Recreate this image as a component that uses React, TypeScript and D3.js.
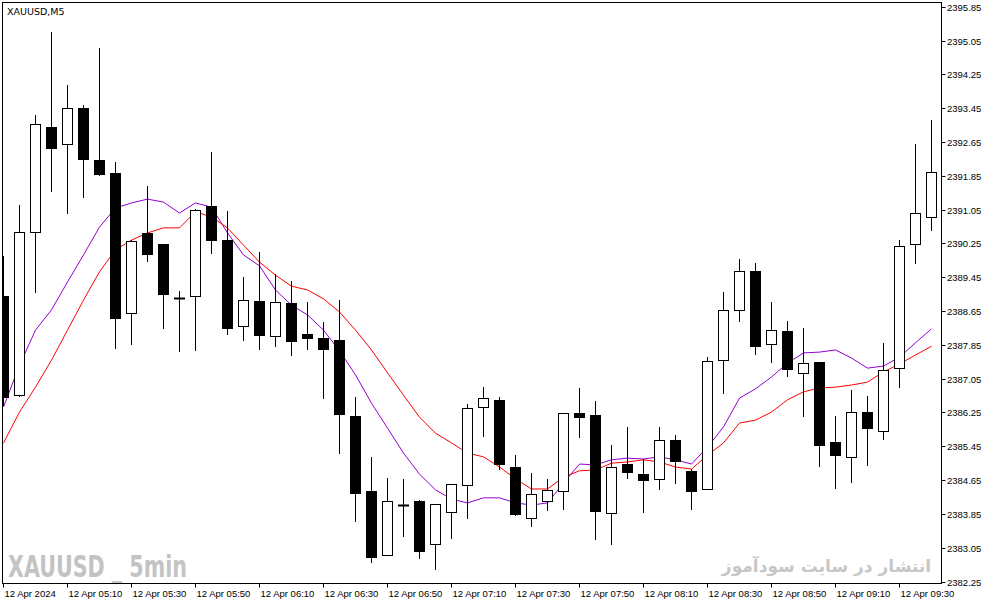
import { useMemo } from 'react';
import * as d3 from 'd3';

// 5-minute XAUUSD bars, 04:50 .. 09:40 (12 Apr 2024)
const opens = [
  2389.01, 2386.66, 2390.52, 2393.01, 2392.61, 2393.46, 2392.23, 2391.92, 2388.61, 2390.5,
  2390.24, 2388.96, 2389.01, 2391.14, 2390.33, 2388.3, 2388.89, 2388.06, 2388.84, 2388.11,
  2388.01, 2387.97, 2386.17, 2384.39, 2382.88, 2384.06, 2384.16, 2383.14, 2383.9, 2384.53,
  2386.38, 2386.55, 2384.96, 2383.75, 2384.16, 2384.39, 2386.24, 2386.19, 2383.87, 2385.03,
  2384.79, 2384.68, 2385.6, 2384.87, 2384.44, 2387.49, 2388.68, 2389.6, 2387.87, 2388.18,
  2387.19, 2387.45, 2385.55, 2385.2, 2386.26, 2385.81, 2387.3, 2390.24, 2390.88,
];
const highs = [
  2389.95, 2391.16, 2393.29, 2395.26, 2394.0, 2393.53, 2394.88, 2392.18, 2390.33, 2391.61,
  2390.24, 2389.13, 2391.06, 2392.42, 2391.02, 2389.46, 2390.05, 2389.53, 2389.36, 2388.87,
  2388.39, 2388.91, 2386.62, 2385.2, 2384.7, 2384.68, 2384.18, 2384.08, 2384.56, 2386.45,
  2386.85, 2386.62, 2385.24, 2384.82, 2384.68, 2386.24, 2386.83, 2386.52, 2385.48, 2385.91,
  2385.15, 2385.91, 2385.72, 2384.91, 2387.56, 2389.1, 2389.88, 2389.79, 2388.87, 2388.42,
  2388.25, 2387.45, 2386.17, 2386.78, 2386.64, 2387.9, 2390.33, 2392.61, 2393.17,
];
const lows = [
  2386.43, 2386.64, 2389.1, 2391.49, 2390.97, 2391.35, 2391.87, 2387.78, 2387.87, 2389.84,
  2388.25, 2387.71, 2387.73, 2390.03, 2388.11, 2387.97, 2387.75, 2387.82, 2387.61, 2387.75,
  2386.59, 2385.29, 2383.68, 2382.71, 2382.88, 2383.33, 2382.81, 2382.55, 2383.28, 2383.75,
  2385.69, 2384.91, 2383.82, 2383.56, 2383.94, 2383.97, 2385.67, 2383.26, 2383.14, 2384.7,
  2383.9, 2384.44, 2384.58, 2383.97, 2384.44, 2386.71, 2388.42, 2387.63, 2387.45, 2387.11,
  2386.17, 2384.98, 2384.46, 2384.6, 2385.01, 2385.62, 2386.85, 2389.79, 2390.57,
];
const closes = [
  2386.62, 2390.52, 2393.08, 2392.51, 2393.46, 2392.25, 2391.9, 2388.49, 2390.31, 2390.0,
  2389.05, 2388.96, 2391.04, 2390.33, 2388.25, 2388.91, 2388.08, 2388.87, 2387.94, 2388.01,
  2387.75, 2386.21, 2384.34, 2382.83, 2384.16, 2384.06, 2382.97, 2384.08, 2384.56, 2386.36,
  2386.59, 2385.03, 2383.85, 2384.32, 2384.42, 2386.24, 2386.14, 2383.92, 2384.96, 2384.84,
  2384.65, 2385.6, 2385.1, 2384.39, 2387.47, 2388.68, 2389.6, 2387.82, 2388.2, 2387.28,
  2387.42, 2385.48, 2385.24, 2386.26, 2385.88, 2387.26, 2390.19, 2390.97, 2391.94,
];

// moving averages (fast = violet, slow = red)
const maFast = [
  2386.38, 2387.37, 2388.2, 2388.68, 2389.34, 2389.98, 2390.64, 2391.09, 2391.21, 2391.3,
  2391.23, 2390.97, 2391.21, 2391.11, 2390.5, 2389.98, 2389.72, 2389.15, 2388.79, 2388.56,
  2388.2, 2387.71, 2387.14, 2386.47, 2385.88, 2385.29, 2384.79, 2384.42, 2384.2, 2384.11,
  2384.23, 2384.23, 2384.11, 2384.06, 2384.11, 2384.58, 2385.03, 2385.01, 2385.13, 2385.17,
  2385.15, 2385.2, 2385.13, 2385.03, 2385.43, 2385.91, 2386.59, 2386.81, 2387.09, 2387.42,
  2387.66, 2387.68, 2387.73, 2387.54, 2387.3, 2387.35, 2387.56, 2387.9, 2388.23,
];
const maSlow = [
  2385.53, 2386.26, 2386.85, 2387.49, 2388.2, 2388.91, 2389.58, 2390.1, 2390.33, 2390.5,
  2390.62, 2390.62, 2391.0, 2390.88, 2390.62, 2390.21, 2389.81, 2389.5, 2389.24, 2389.15,
  2388.94, 2388.63, 2388.2, 2387.73, 2387.19, 2386.66, 2386.14, 2385.76, 2385.53, 2385.29,
  2385.2, 2384.96, 2384.68, 2384.44, 2384.44, 2384.72, 2384.87, 2384.89, 2385.05, 2385.08,
  2385.13, 2385.08, 2384.96, 2384.91, 2385.24, 2385.53, 2386.0, 2386.07, 2386.26, 2386.55,
  2386.74, 2386.83, 2386.85, 2386.9, 2386.97, 2387.21, 2387.4, 2387.61, 2387.82,
];

const priceTicks = [
  2382.25, 2383.05, 2383.85, 2384.65, 2385.45, 2386.25, 2387.05, 2387.85, 2388.65,
  2389.45, 2390.25, 2391.05, 2391.85, 2392.65, 2393.45, 2394.25, 2395.05, 2395.85,
];
const timeLabels = [
  '12 Apr 2024', '12 Apr 05:10', '12 Apr 05:30', '12 Apr 05:50', '12 Apr 06:10',
  '12 Apr 06:30', '12 Apr 06:50', '12 Apr 07:10', '12 Apr 07:30', '12 Apr 07:50',
  '12 Apr 08:10', '12 Apr 08:30', '12 Apr 08:50', '12 Apr 09:10', '12 Apr 09:30',
];

const W = 987;
const H = 605;
const plot = { left: 2.5, top: 2.5, right: 941.5, bottom: 583.5 };
const axisFont = '"Liberation Sans", Arial, sans-serif';

export default function App() {
  const x = useMemo(() => d3.scaleLinear().domain([0, opens.length - 1]).range([3.5, 931.5]), []);
  const y = useMemo(() => d3.scaleLinear().domain([2382.25, 2395.85]).range([581.5, 6.9]), []);

  const fastPath = d3.line<number>().x((_, i) => x(i)).y((d) => y(d))(maFast) ?? '';
  const slowPath = d3.line<number>().x((_, i) => x(i)).y((d) => y(d))(maSlow) ?? '';

  return (
    <svg
      width={W}
      height={H}
      viewBox={`0 0 ${W} ${H}`}
      style={{ position: 'absolute', left: 0, top: 0, background: '#fff' }}
    >
      <defs>
        <clipPath id="plotClip">
          <rect x={plot.left} y={plot.top} width={plot.right - plot.left} height={plot.bottom - plot.top} />
        </clipPath>
      </defs>
      <rect x={0} y={0} width={W} height={H} fill="#fff" />

      {/* watermarks */}
      <text
        x={8}
        y={577}
        fontFamily='"Liberation Sans Narrow", "DejaVu Sans Condensed", Arial, sans-serif'
        fontWeight="bold"
        fontSize={31}
        fill="#c3c3c3"
        textLength={179}
        lengthAdjust="spacingAndGlyphs"
      >
        XAUUSD _ 5min
      </text>
      <text
        x={826.5}
        y={572}
        textAnchor="middle"
        fontFamily='"DejaVu Sans", sans-serif'
        fontWeight="bold"
        fontSize={17}
        fill="#c6c6c6"
      >
        انتشار در سایت سودآموز
      </text>

      <g clipPath="url(#plotClip)">
        <path d={fastPath} fill="none" stroke="#9400D3" strokeWidth={1} />
        <path d={slowPath} fill="none" stroke="#FF0000" strokeWidth={1} />
        {opens.map((o, i) => {
          const c = closes[i];
          const cx = x(i);
          const top = Math.round(y(Math.max(o, c))) + 0.5;
          const bot = Math.round(y(Math.min(o, c))) + 0.5;
          const bull = c >= o;
          return (
            <g key={i}>
              <line x1={cx} x2={cx} y1={Math.round(y(highs[i]))} y2={Math.round(y(lows[i])) + 1} stroke="#000" strokeWidth={1} />
              {bot - top < 1.5 ? (
                <line x1={cx - 5.5} x2={cx + 5.5} y1={top} y2={top} stroke="#000" strokeWidth={bull && bot === top ? 2 : 3} />
              ) : (
                <rect
                  x={cx - 5}
                  y={top}
                  width={10}
                  height={bot - top}
                  fill={bull ? '#fff' : '#000'}
                  stroke="#000"
                  strokeWidth={1}
                />
              )}
            </g>
          );
        })}
      </g>

      {/* frame */}
      <rect
        x={plot.left}
        y={plot.top}
        width={plot.right - plot.left}
        height={plot.bottom - plot.top}
        fill="none"
        stroke="#000"
        strokeWidth={1}
      />

      <text x={7} y={15} fontFamily='"DejaVu Sans", Tahoma, sans-serif' fontSize={9.5} fill="#000">
        XAUUSD,M5
      </text>

      {/* price axis */}
      {priceTicks.map((p) => {
        const ty = Math.round(y(p)) + 0.5;
        return (
          <g key={p}>
            <line x1={plot.right} x2={plot.right + 4} y1={ty} y2={ty} stroke="#000" />
            <text x={947} y={ty + 3.5} fontFamily={axisFont} fontSize={9.5} fill="#000">
              {p.toFixed(2)}
            </text>
          </g>
        );
      })}

      {/* time axis */}
      {timeLabels.map((t, k) => {
        const tx = x(k * 4);
        return (
          <g key={t}>
            <line x1={tx} x2={tx} y1={plot.bottom} y2={plot.bottom + 4} stroke="#000" />
            <text x={tx + 1} y={597} fontFamily={axisFont} fontSize={9.5} fill="#000">
              {t}
            </text>
          </g>
        );
      })}
    </svg>
  );
}
